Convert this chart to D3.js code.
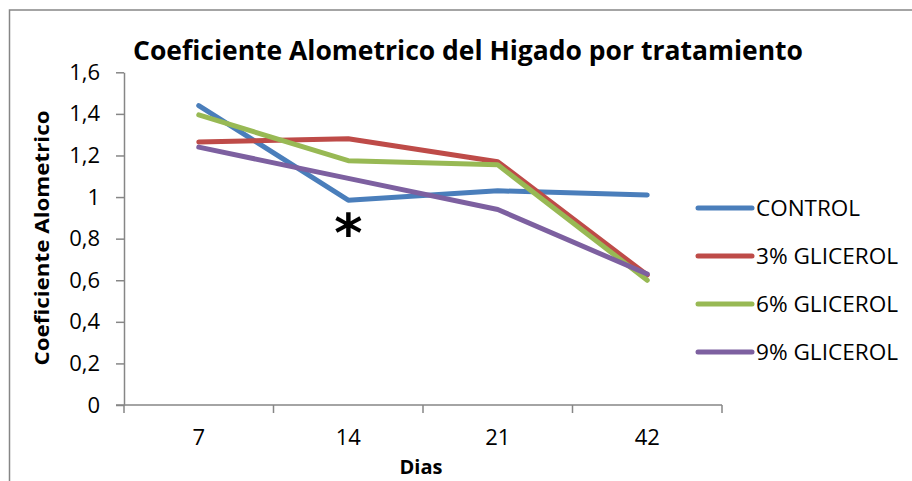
<!DOCTYPE html>
<html>
<head>
<meta charset="utf-8">
<script src="https://cdn.jsdelivr.net/npm/d3@7"></script>
<style>
  html, body { margin: 0; padding: 0; background: #fff; }
  svg { display: block; font-family: "Open Sans", "Liberation Sans", sans-serif; }
</style>
</head>
<body>
<svg id="chart" width="912" height="481"></svg>
<script>
// Liver allometric coefficient by treatment and day
const days = ["7", "14", "21", "42"];
const control = [1.44, 0.985, 1.03, 1.01];
const glicerol3 = [1.265, 1.28, 1.17, 0.625];
const glicerol6 = [1.395, 1.175, 1.155, 0.6];
const glicerol9 = [1.24, 1.09, 0.94, 0.63];
const seriesNames = ["CONTROL", "3% GLICEROL", "6% GLICEROL", "9% GLICEROL"];
const yTicks = [0, 0.2, 0.4, 0.6, 0.8, 1, 1.2, 1.4, 1.6];
const colors = ["#4A7EBB", "#BE4B48", "#98B954", "#7D60A0"];

const series = [control, glicerol3, glicerol6, glicerol9].map((values, i) => ({
  name: seriesNames[i], color: colors[i], values
}));

const svg = d3.select("#chart");
const axisColor = "#868686";

// Outer frame
svg.append("rect")
  .attr("x", 9.5).attr("y", 10)
  .attr("width", 1000).attr("height", 1000)
  .attr("fill", "none").attr("stroke", axisColor).attr("stroke-width", 1.5);

const x = d3.scaleBand().domain(days).range([124, 722]).paddingInner(0).paddingOuter(0);
const y = d3.scaleLinear().domain([0, 1.6]).range([405, 72.3]);
const cx = d => x(d) + x.bandwidth() / 2;

const fmt = d => String(+d.toFixed(1)).replace(".", ",");

// Y axis
const yAxis = svg.append("g")
  .attr("transform", "translate(124,0)")
  .call(d3.axisLeft(y).tickValues(yTicks).tickFormat(fmt).tickSize(8).tickSizeOuter(0).tickPadding(16));
yAxis.select(".domain").attr("stroke", axisColor).attr("stroke-width", 1.5);
yAxis.selectAll(".tick line").attr("stroke", axisColor).attr("stroke-width", 1.5);
yAxis.selectAll(".tick text").attr("font-size", 22).attr("fill", "#000")
  .attr("font-family", "Open Sans, sans-serif");

// X axis: labels centred in each category, tick marks at category boundaries
const xAxis = svg.append("g")
  .attr("transform", "translate(0,405)")
  .call(d3.axisBottom(x).tickSize(0).tickSizeOuter(0).tickPadding(24));
xAxis.select(".domain").remove();
xAxis.selectAll(".tick text").attr("font-size", 22).attr("fill", "#000")
  .attr("font-family", "Open Sans, sans-serif");

const bounds = days.map(d => x(d)).concat([x(days[days.length - 1]) + x.bandwidth()]);
svg.append("line")
  .attr("x1", 116).attr("x2", bounds[bounds.length - 1])
  .attr("y1", 405).attr("y2", 405)
  .attr("stroke", axisColor).attr("stroke-width", 1.5);
svg.selectAll(".xtick").data(bounds).join("line")
  .attr("class", "xtick")
  .attr("x1", d => d).attr("x2", d => d)
  .attr("y1", 405).attr("y2", 413)
  .attr("stroke", axisColor).attr("stroke-width", 1.5);

// Series lines
const line = d3.line().x((v, i) => cx(days[i])).y(v => y(v));
svg.selectAll(".series").data(series).join("path")
  .attr("class", "series")
  .attr("d", s => line(s.values))
  .attr("fill", "none")
  .attr("stroke", s => s.color)
  .attr("stroke-width", 5)
  .attr("stroke-linejoin", "round")
  .attr("stroke-linecap", "round");

// Significance mark under day 14
svg.append("text")
  .attr("x", cx("14")).attr("y", 252)
  .attr("text-anchor", "middle")
  .attr("font-size", 54).attr("font-weight", "bold")
  .attr("font-family", "DejaVu Sans, sans-serif")
  .text("*");

// Title
svg.append("text")
  .attr("x", 468).attr("y", 60)
  .attr("text-anchor", "middle")
  .attr("font-size", 26).attr("font-weight", "bold")
  .attr("textLength", 670).attr("lengthAdjust", "spacingAndGlyphs")
  .text("Coeficiente Alometrico del Higado por tratamiento");

// Axis titles
svg.append("text")
  .attr("transform", "translate(49,238) rotate(-90)")
  .attr("text-anchor", "middle")
  .attr("font-size", 20).attr("font-weight", "bold")
  .attr("textLength", 255).attr("lengthAdjust", "spacingAndGlyphs")
  .text("Coeficiente Alometrico");

svg.append("text")
  .attr("x", 421).attr("y", 474)
  .attr("text-anchor", "middle")
  .attr("font-size", 20).attr("font-weight", "bold")
  .text("Dias");

// Legend
const legendWidths = [104, 142, 142, 142];
const legend = svg.append("g");
const rows = legend.selectAll("g").data(series).join("g")
  .attr("transform", (s, i) => `translate(698,${208 + i * 48})`);
rows.append("line")
  .attr("x1", 0).attr("x2", 54).attr("y1", 0).attr("y2", 0)
  .attr("stroke", s => s.color).attr("stroke-width", 5).attr("stroke-linecap", "round");
rows.append("text")
  .attr("x", 58).attr("y", 8)
  .attr("font-size", 22)
  .attr("textLength", (s, i) => legendWidths[i]).attr("lengthAdjust", "spacingAndGlyphs")
  .text(s => s.name);
</script>
</body>
</html>
